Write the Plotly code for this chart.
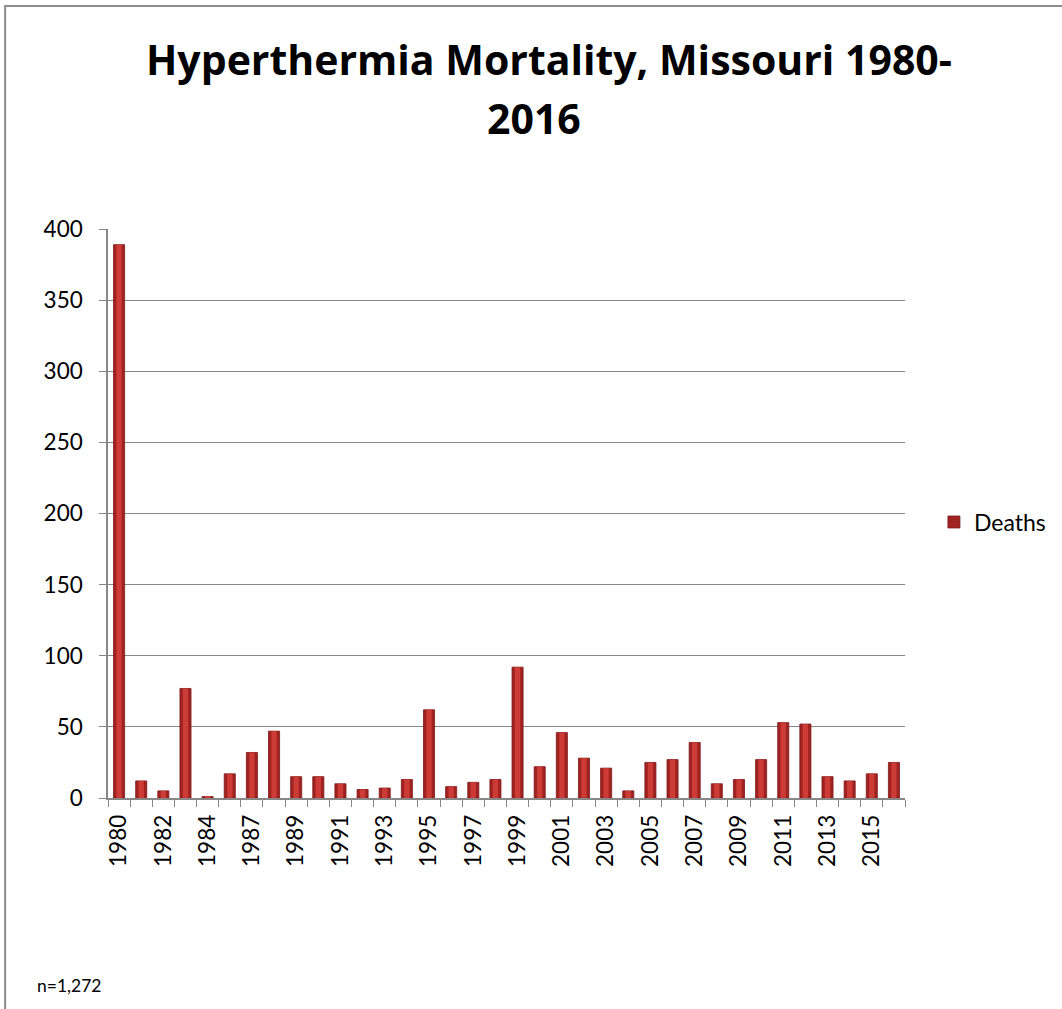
import plotly.graph_objects as go

years = ["1980", "1981", "1982", "1983", "1984", "1986", "1987", "1988", "1989", "1990",
         "1991", "1992", "1993", "1994", "1995", "1996", "1997", "1998", "1999", "2000",
         "2001", "2002", "2003", "2004", "2005", "2006", "2007", "2008", "2009", "2010",
         "2011", "2012", "2013", "2014", "2015", "2016"]
deaths = [389, 12, 5, 77, 1, 17, 32, 47, 15, 15,
          10, 6, 7, 13, 62, 8, 11, 13, 92, 22,
          46, 28, 21, 5, 25, 27, 39, 10, 13, 27,
          53, 52, 15, 12, 17, 25]
shown_labels = ["1980", "1982", "1984", "1987", "1989", "1991", "1993", "1995", "1997",
                "1999", "2001", "2003", "2005", "2007", "2009", "2011", "2013", "2015"]
tick_text = [y if y in shown_labels else "" for y in years]
title_lines = ["Hyperthermia Mortality, Missouri 1980-", "2016"]

FONT = "Lato, Carlito, Calibri, sans-serif"
TITLE_FONT = "'Open Sans', Lato, sans-serif"
GRID = "#878787"

fig = go.Figure()
fig.add_trace(go.Bar(
    x=years, y=deaths, name="Deaths", width=0.5,
    marker=dict(color="#A02321", line=dict(color="#7E1616", width=0.8)),
    showlegend=True,
))
fig.add_trace(go.Bar(
    x=years, y=deaths, name="Deaths", width=0.24,
    marker=dict(color="#CC3B36", line=dict(width=0)),
    showlegend=False, hoverinfo="skip",
))

fig.update_layout(
    width=1062, height=1009,
    margin=dict(l=108, r=156, t=229, b=211),
    paper_bgcolor="white", plot_bgcolor="white",
    barmode="overlay",
    font=dict(family=FONT, color="black"),
    legend=dict(
        x=1.035, y=0.485, xanchor="left", yanchor="middle",
        font=dict(family=FONT, size=23, color="black"),
        bgcolor="rgba(0,0,0,0)",
    ),
    xaxis=dict(
        type="category", categoryorder="array", categoryarray=years,
        tickmode="array", tickvals=years, ticktext=tick_text,
        tickson="boundaries", ticks="outside", ticklen=7, tickcolor=GRID,
        tickangle=-90, tickfont=dict(family=FONT, size=22.5, color="black"),
        ticklabelstandoff=6,
        showline=True, linecolor=GRID, linewidth=1.5,
        showgrid=False, zeroline=False,
    ),
    yaxis=dict(
        range=[0, 400], dtick=50, tick0=0,
        ticks="outside", ticklen=7, tickcolor=GRID,
        tickfont=dict(family=FONT, size=22.5, color="black"),
        ticklabelstandoff=12,
        showline=True, linecolor=GRID, linewidth=1.5,
        showgrid=True, gridcolor=GRID, gridwidth=1.2,
        zeroline=False,
    ),
)

fig.add_shape(
    type="rect", xref="paper", yref="paper",
    x0=(5 - 108) / 798, x1=(1075 - 108) / 798,
    y0=(798 - 1020) / 569, y1=(798 - 6) / 569,
    line=dict(color="#8C8C8C", width=2), fillcolor="rgba(0,0,0,0)", layer="below",
)

# Title (two lines placed separately to match line spacing)
fig.add_annotation(
    text="<b>" + title_lines[0] + "</b>", xref="paper", yref="paper",
    x=(550 - 108) / 798, y=(798 - 59) / 569,
    xanchor="center", yanchor="middle", showarrow=False,
    font=dict(family=TITLE_FONT, size=41, color="black"),
)
fig.add_annotation(
    text="<b>" + title_lines[1] + "</b>", xref="paper", yref="paper",
    x=(535 - 108) / 798, y=(798 - 118) / 569,
    xanchor="center", yanchor="middle", showarrow=False,
    font=dict(family=TITLE_FONT, size=41, color="black"),
)

fig.add_annotation(
    text="n=1,272", xref="paper", yref="paper",
    x=(35 - 108) / 798, y=(798 - 985) / 569,
    xanchor="left", yanchor="middle", showarrow=False,
    font=dict(family=FONT, size=17.5, color="black"),
)

fig.write_html(
    "out.html",
    config={"displayModeBar": False},
    post_script="document.body.style.margin='0';document.body.style.overflow='hidden';",
)
